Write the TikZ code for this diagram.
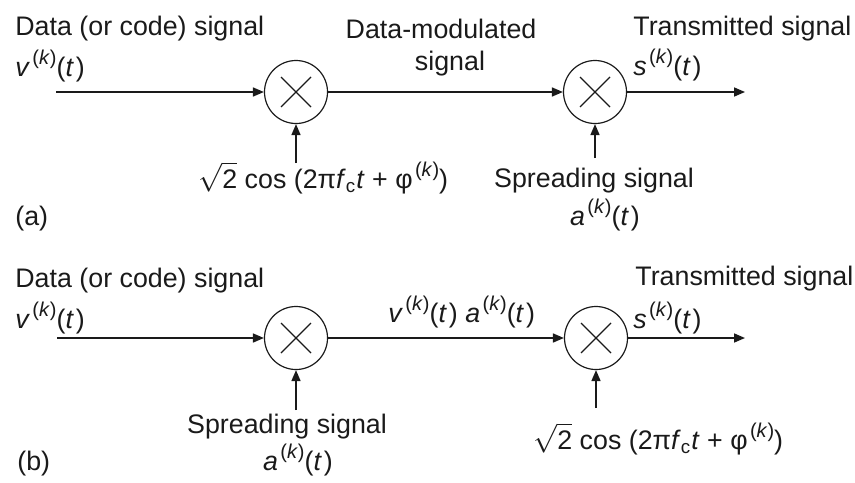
\documentclass[tikz,border=0pt]{standalone}
\usepackage{fontspec}
\setmainfont{Liberation Sans}
\usetikzlibrary{arrows.meta}
\definecolor{dsInk}{HTML}{1A1A1A}
\newcommand\supk{\kern1.2pt\raisebox{0.42em}{\fontsize{10}{12}\selectfont(\textit{k})}}
\newcommand\sigk[1]{\textit{#1}\supk(\textit{t}\kern1pt)}
\newcommand\carrier{$\sqrt{\mbox{2}}$ cos (2π\textit{f}\textsubscript{c}\textit{t} + φ\supk)}
\tikzset{
  ds line/.style={draw=dsInk, line width=0.8pt, -{Triangle[length=5.5pt,width=4.5pt]}},
  ds mixer/.style={circle, draw=dsInk, line width=0.6pt, minimum size=31.5pt, inner sep=0pt,
    path picture={\draw[dsInk, line width=0.6pt]
      ([shift={(-7.5pt,-7.5pt)}]path picture bounding box.center) -- ++(15pt,15pt)
      ([shift={(-7.5pt,7.5pt)}]path picture bounding box.center) -- ++(15pt,-15pt);}},
  ds label/.style={font=\fontsize{13.4}{16}\selectfont, text=dsInk, inner sep=0pt},
}
\begin{document}
\begin{tikzpicture}[x=0.5pt,y=-0.5pt]
  \useasboundingbox (0,0) rectangle (855,482);
  % (a)
  \node[ds mixer] (mixa1) at (296,92) {};
  \node[ds mixer] (mixa2) at (595,92) {};
  \coordinate (ina) at (56,92);
  \coordinate (outa) at (745,92);
  \coordinate (cara) at (296,163);
  \coordinate (spra) at (595,158);
  \draw[ds line] (ina) -- (mixa1);
  \draw[ds line] (mixa1) -- (mixa2);
  \draw[ds line] (mixa2) -- (outa);
  \draw[ds line] (cara) -- (mixa1);
  \draw[ds line] (spra) -- (mixa2);
  \node[ds label, anchor=base west] (dataa) at (15,35) {Data (or code) signal};
  \node[ds label, anchor=base west] (va) at (15,76) {\sigk{v}};
  \node[ds label, anchor=base] (moda) at (441,38) {Data-modulated};
  \node[ds label, anchor=base] (moda2) at (450,70) {signal};
  \node[ds label, anchor=base west] (txa) at (633,35) {Transmitted signal};
  \node[ds label, anchor=base west] (sa) at (633,75) {\sigk{s}};
  \node[ds label, anchor=base west] (cosa) at (198,188) {\carrier};
  \node[ds label, anchor=base] (spreada) at (594,187) {Spreading signal};
  \node[ds label, anchor=base] (aa) at (605,225) {\sigk{a}};
  \node[ds label, anchor=base west] (taga) at (15,225) {(a)};
  % (b)
  \node[ds mixer] (mixb1) at (296,338) {};
  \node[ds mixer] (mixb2) at (596,338) {};
  \coordinate (inb) at (57,338);
  \coordinate (outb) at (745,338);
  \coordinate (sprb) at (296,410);
  \coordinate (carb) at (596,408);
  \draw[ds line] (inb) -- (mixb1);
  \draw[ds line] (mixb1) -- (mixb2);
  \draw[ds line] (mixb2) -- (outb);
  \draw[ds line] (sprb) -- (mixb1);
  \draw[ds line] (carb) -- (mixb2);
  \node[ds label, anchor=base west] (datab) at (15,287) {Data (or code) signal};
  \node[ds label, anchor=base west] (vb) at (15,328) {\sigk{v}};
  \node[ds label, anchor=base west] (prodb) at (388,322) {\sigk{v} \sigk{a}};
  \node[ds label, anchor=base west] (txb) at (635,285) {Transmitted signal};
  \node[ds label, anchor=base west] (sb) at (633,328) {\sigk{s}};
  \node[ds label, anchor=base] (spreadb) at (287,433) {Spreading signal};
  \node[ds label, anchor=base] (ab) at (298,470) {\sigk{a}};
  \node[ds label, anchor=base west] (cosb) at (533,449) {\carrier};
  \node[ds label, anchor=base west] (tagb) at (17,470) {(b)};
\end{tikzpicture}
\end{document}
